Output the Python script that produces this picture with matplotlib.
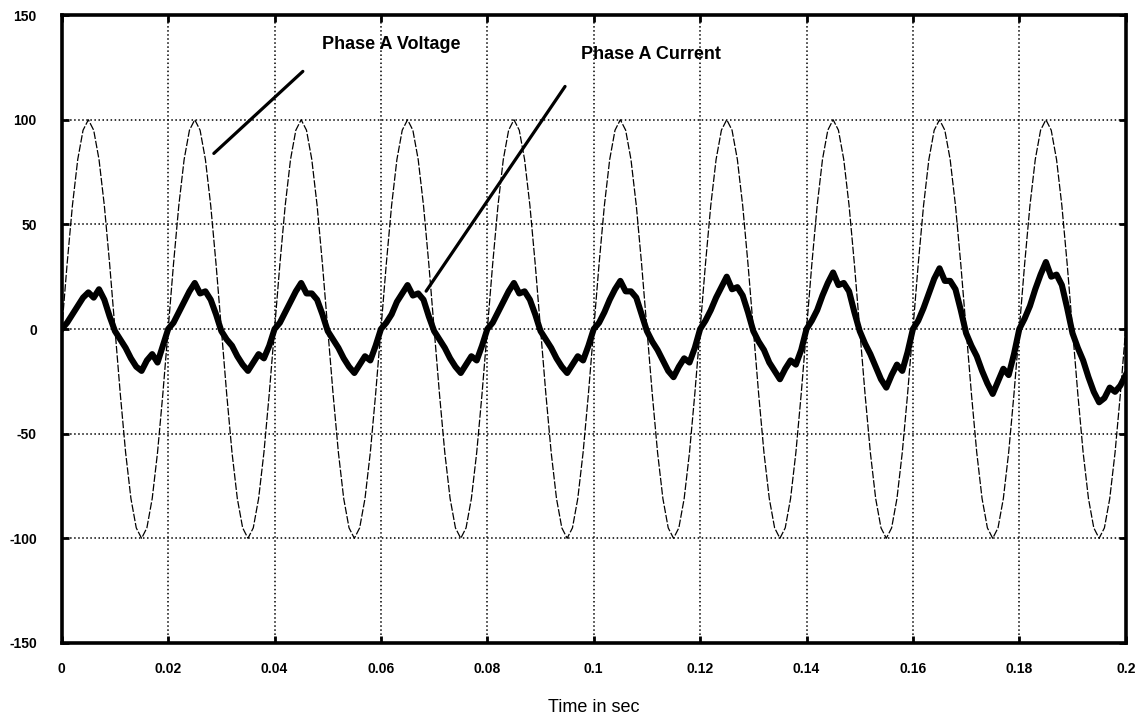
import matplotlib
matplotlib.use("Agg")
import matplotlib.pyplot as plt
import numpy as np

# ======================
# data read off the scan (sampled every 1 ms)
# ======================
time_step = 0.001

phase_a_voltage = [
    0, 31, 59, 81, 95, 100, 95, 81, 59, 31, 0, -31, -59, -81, -95, -100, -95, -81, -59, -31,
    0, 31, 59, 81, 95, 100, 95, 81, 59, 31, 0, -31, -59, -81, -95, -100, -95, -81, -59, -31,
    0, 31, 59, 81, 95, 100, 95, 81, 59, 31, 0, -31, -59, -81, -95, -100, -95, -81, -59, -31,
    0, 31, 59, 81, 95, 100, 95, 81, 59, 31, 0, -31, -59, -81, -95, -100, -95, -81, -59, -31,
    0, 31, 59, 81, 95, 100, 95, 81, 59, 31, 0, -31, -59, -81, -95, -100, -95, -81, -59, -31,
    0, 31, 59, 81, 95, 100, 95, 81, 59, 31, 0, -31, -59, -81, -95, -100, -95, -81, -59, -31,
    0, 31, 59, 81, 95, 100, 95, 81, 59, 31, 0, -31, -59, -81, -95, -100, -95, -81, -59, -31,
    0, 31, 59, 81, 95, 100, 95, 81, 59, 31, 0, -31, -59, -81, -95, -100, -95, -81, -59, -31,
    0, 31, 59, 81, 95, 100, 95, 81, 59, 31, 0, -31, -59, -81, -95, -100, -95, -81, -59, -31,
    0, 31, 59, 81, 95, 100, 95, 81, 59, 31, 0, -31, -59, -81, -95, -100, -95, -81, -59, -31,
    0,
]

phase_a_current = [
    0, 3, 7, 11, 15, 17.5, 15, 19, 14, 6, -1, -5, -9, -14, -18, -20, -15, -12, -16, -8,
    0, 3, 8, 13, 18, 22, 17, 18, 14, 7, -1, -5, -8, -13, -17, -20, -16, -12, -14, -8,
    0, 3, 8, 13, 18, 22, 17, 17, 14, 7, -1, -5, -9, -14, -18, -21, -17, -13, -15, -8,
    0, 3, 7, 13, 17, 21, 16, 17, 14, 6, -1, -5, -9, -14, -18, -21, -17, -13, -15, -8,
    0, 3, 8, 13, 18, 22, 17, 18, 14, 7, -1, -5, -9, -14, -18, -21, -17, -13, -15, -8,
    0, 3, 8, 14, 19, 23, 18, 18, 15, 7, -1, -6, -10, -15, -20, -23, -18, -14, -16, -9,
    0, 4, 9, 15, 20, 25, 19, 20, 16, 8, -1, -6, -10, -16, -20, -24, -19, -15, -17, -10,
    0, 4, 9, 16, 22, 27, 21, 22, 18, 8, -1, -7, -12, -18, -24, -28, -22, -17, -20, -11,
    0, 4, 10, 17, 24, 29, 23, 23, 19, 9, -2, -8, -13, -20, -26, -31, -25, -19, -22, -12,
    0, 5, 11, 19, 26, 32, 25, 26, 21, 10, -2, -9, -15, -23, -30, -35, -33, -28, -30, -27,
    -22,
]

x_ticks = [0, 0.02, 0.04, 0.06, 0.08, 0.1, 0.12, 0.14, 0.16, 0.18, 0.2]
x_tick_labels = ["0", "0.02", "0.04", "0.06", "0.08", "0.1", "0.12", "0.14", "0.16", "0.18", "0.2"]
y_ticks = [-150, -100, -50, 0, 50, 100, 150]
y_tick_labels = ["-150", "-100", "-50", "0", "50", "100", "150"]

t = np.arange(len(phase_a_voltage)) * time_step

# ======================
# figure
# ======================
plt.rcParams["font.family"] = ["Liberation Sans", "DejaVu Sans"]

fig = plt.figure(figsize=(11.44, 7.18), dpi=100)
ax = fig.add_axes([0.054, 0.1045, 0.93, 0.8745])

ax.plot(t, phase_a_voltage, color="black", lw=0.9, ls=(0, (6, 1.5)))
ax.plot(t, phase_a_current, color="black", lw=4.4, solid_joinstyle="round")

ax.set_xlim(0, 0.2)
ax.set_ylim(-150, 150)
ax.set_xticks(x_ticks)
ax.set_xticklabels(x_tick_labels, fontsize=10, fontweight="bold")
ax.set_yticks(y_ticks)
ax.set_yticklabels(y_tick_labels, fontsize=10, fontweight="bold")
ax.tick_params(direction="in", length=5, width=2, top=True, right=True)
ax.tick_params(axis="y", pad=18)
ax.tick_params(axis="x", pad=14)

ax.grid(True, color="black", ls=":", lw=1.1)
for side in ax.spines.values():
    side.set_linewidth(2.6)

ax.set_xlabel("Time in sec", fontsize=13, labelpad=16)

# pointer labels
ax.text(0.062, 136, "Phase A Voltage", fontsize=13, fontweight="bold",
        ha="center", va="center")
ax.annotate("", xy=(0.0282, 83), xytext=(0.0457, 124),
            arrowprops=dict(arrowstyle="-", lw=2.3, color="black"))
ax.text(0.1107, 131, "Phase A Current", fontsize=13, fontweight="bold",
        ha="center", va="center")
ax.annotate("", xy=(0.0682, 17), xytext=(0.0949, 117),
            arrowprops=dict(arrowstyle="-", lw=2.3, color="black"))

fig.savefig("out.png", dpi=100)
